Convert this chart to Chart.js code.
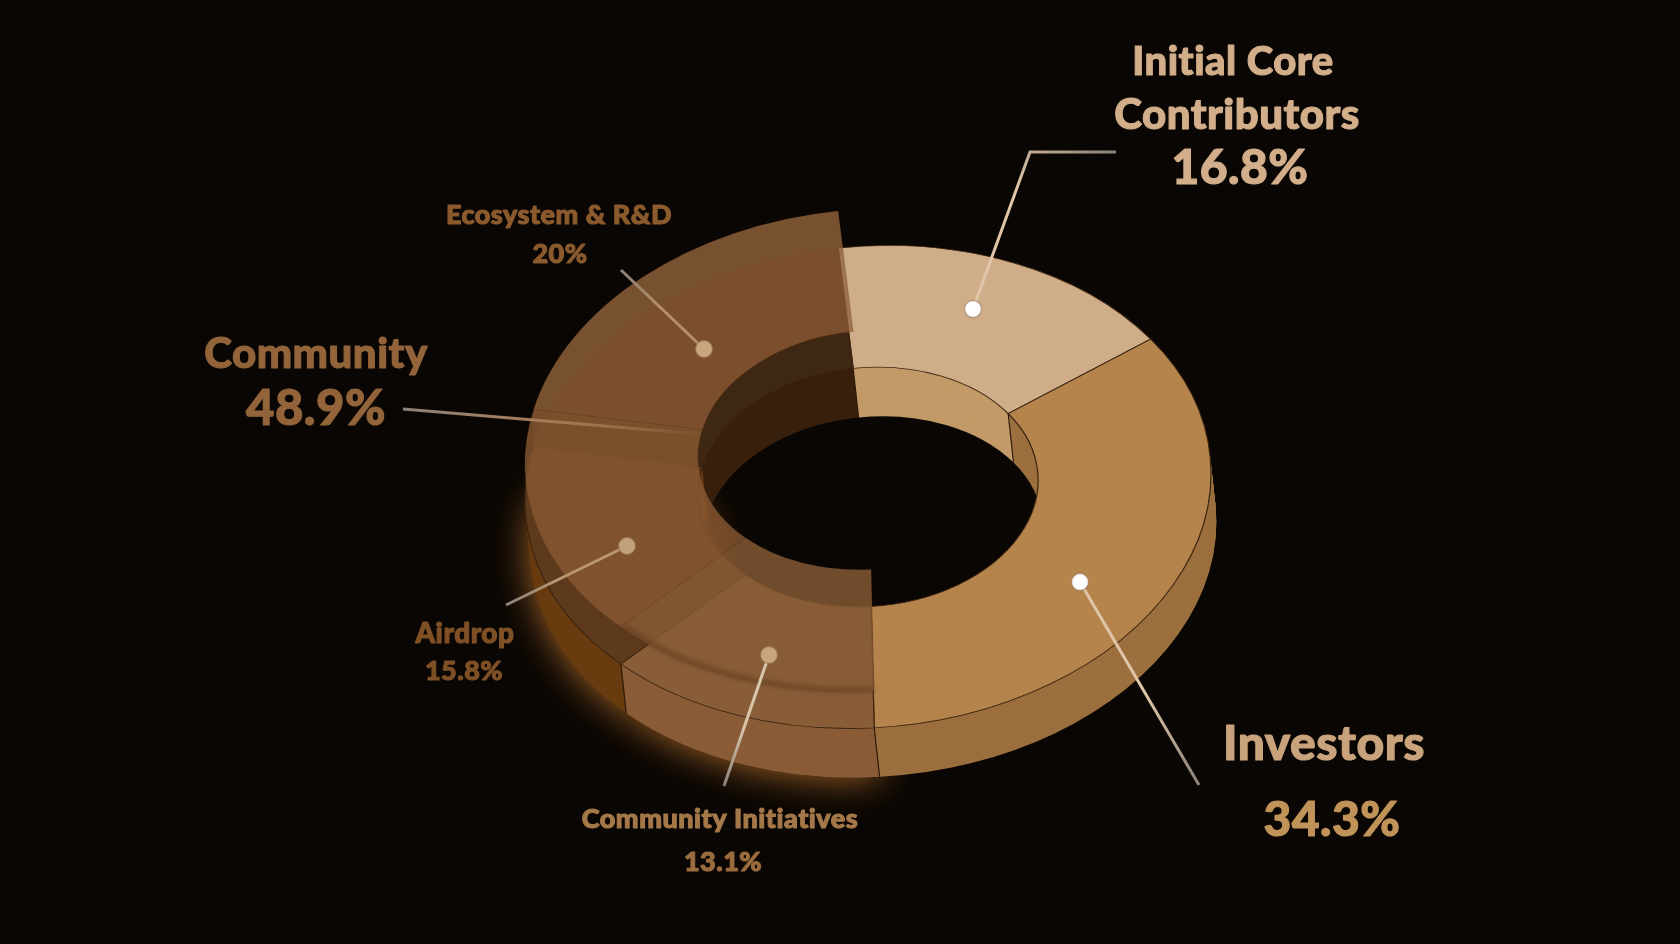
<!DOCTYPE html>
<html>
<head>
<meta charset="utf-8">
<style>
  html, body { margin: 0; background: #0a0603; }
  canvas { display: block; }
</style>
<script src="https://cdn.jsdelivr.net/npm/chart.js@4"></script>
</head>
<body>
<canvas id="chart" width="1680" height="944"></canvas>
<script>
const categories = ['Initial Core Contributors', 'Investors', 'Community Initiatives', 'Airdrop', 'Ecosystem & R&D'];
const shares = [16.8, 34.3, 13.1, 15.8, 20];
const faceColors = ['#cfad89', '#b5844c', '#8a5d39', '#5e3a1d', '#3f2813'];
const wallColors = ['#c29a68', '#9c6f3e', '#8a5c37', '#693c10', '#38200d'];
const liftColors = [null, null, 'rgba(136,92,54,.82)', 'rgba(136,88,50,.82)', 'rgba(142,97,60,.75)'];

// the ring is a plain doughnut, squashed and stacked by the plugin below
const cx = 868, cy = 487, squash = 0.703, tilt = -0.04;
const depth = 49, lift = 37, lean = 0.11;

function place(ctx, chart, dy) {
  const a = chart.chartArea;
  ctx.translate(cx + Math.max(dy, 0) * lean, cy + dy);
  ctx.transform(1, tilt, 0, 1, 0, 0);
  ctx.scale(1, squash);
  ctx.translate(-(a.left + a.right) / 2, -(a.top + a.bottom) / 2);
}

function paintArc(ctx, arc, fill, border, width) {
  const copy = Object.create(arc);
  copy.options = Object.assign({}, arc.options, {
    backgroundColor: fill,
    borderColor: border || fill,
    borderWidth: width || 0
  });
  copy.draw(ctx);
}

const ringPlugin = {
  id: 'ring',
  beforeDatasetDraw(chart, args) {
    const ctx = chart.ctx;
    const arcs = chart.getDatasetMeta(args.index).data;
    // glow under the front of the community slices
    ctx.save();
    ctx.shadowColor = 'rgba(200,125,50,.85)';
    ctx.shadowBlur = 38;
    place(ctx, chart, depth);
    paintArc(ctx, arcs[2], wallColors[2]);
    paintArc(ctx, arcs[3], wallColors[3]);
    ctx.restore();
    // side walls, back to front
    for (let dy = depth; dy >= -lift; dy--) {
      arcs.forEach((arc, i) => {
        if (dy < 0 && i !== 4) return;
        ctx.save();
        place(ctx, chart, dy);
        paintArc(ctx, arc, wallColors[i]);
        ctx.restore();
      });
    }
    // wall edges at slice boundaries
    ctx.strokeStyle = '#2e1a0a';
    ctx.lineWidth = 1.2;
    arcs.forEach((arc) => {
      const s = Math.sin(arc.startAngle), c = Math.cos(arc.startAngle);
      const r = s > 0 ? arc.outerRadius : arc.innerRadius;
      if (Math.abs(c) > 0.95) return;
      const x = cx + c * r, y = cy + s * r * squash + tilt * c * r;
      ctx.beginPath();
      ctx.moveTo(x, y);
      ctx.lineTo(x + depth * lean, y + depth);
      ctx.stroke();
    });
    ctx.save();
    place(ctx, chart, 0);
  },
  afterDatasetDraw(chart, args) {
    const ctx = chart.ctx;
    ctx.restore();
    const arcs = chart.getDatasetMeta(args.index).data;
    // warmer base where the floating ecosystem slice overlaps it
    const eco = arcs[4];
    ctx.save();
    place(ctx, chart, -lift);
    ctx.beginPath();
    ctx.arc(eco.x, eco.y, eco.outerRadius, eco.startAngle, eco.endAngle);
    ctx.arc(eco.x, eco.y, eco.innerRadius, eco.endAngle, eco.startAngle, true);
    ctx.closePath();
    ctx.setTransform(1, 0, 0, 1, 0, 0);
    ctx.clip();
    place(ctx, chart, 0);
    paintArc(ctx, eco, 'rgb(70,21,0)');
    ctx.restore();
    // community slices float above the ring as a see-through layer
    arcs.forEach((arc, i) => {
      if (!liftColors[i]) return;
      ctx.save();
      place(ctx, chart, -lift);
      paintArc(ctx, arc, liftColors[i], 'rgba(95,60,32,.22)', 1);
      ctx.restore();
    });
    // soft dark lip along the front edge of the floating layer
    const front = arcs[2];
    ctx.save();
    place(ctx, chart, -lift);
    ctx.filter = 'blur(2.5px)';
    ctx.strokeStyle = 'rgba(92,56,28,.6)';
    ctx.lineWidth = 7;
    ctx.beginPath();
    ctx.arc(front.x, front.y, front.outerRadius - 2, front.startAngle, front.endAngle);
    ctx.stroke();
    ctx.restore();
  },
  afterDraw(chart) {
    const ctx = chart.ctx;
    leaders.forEach((l) => {
      const n = l.pts.length;
      const [x0, y0] = l.pts[0], [x1, y1] = l.pts[n - 1];
      const g = ctx.createLinearGradient(x0, y0, x1, y1);
      g.addColorStop(0, '#8c8278');
      g.addColorStop(0.45, l.color);
      g.addColorStop(1, l.fade ? 'rgba(190,150,110,0)' : l.color);
      ctx.strokeStyle = g;
      ctx.lineWidth = 3;
      ctx.beginPath();
      l.pts.forEach(([x, y], i) => (i ? ctx.lineTo(x, y) : ctx.moveTo(x, y)));
      ctx.stroke();
      if (!l.dot) return;
      ctx.beginPath();
      ctx.arc(x1, y1, 8.5, 0, Math.PI * 2);
      ctx.fillStyle = l.dot;
      ctx.fill();
      ctx.strokeStyle = 'rgba(150,115,85,.55)';
      ctx.lineWidth = 1.5;
      ctx.stroke();
    });
    ctx.textAlign = 'center';
    ctx.textBaseline = 'middle';
    ctx.letterSpacing = '0.5px';
    ctx.lineJoin = 'round';
    ctx.lineWidth = 1.1;
    labelLines.forEach(([text, x, y, size, color]) => {
      ctx.font = '900 ' + size + 'px Lato';
      ctx.fillStyle = color;
      ctx.strokeStyle = color;
      ctx.fillText(text, x, y);
      ctx.strokeText(text, x, y);
    });
  }
};

const leaders = [
  { pts: [[1116, 152], [1030, 152], [973, 309]], color: '#e0c6a8', dot: '#ffffff' },
  { pts: [[1199, 785], [1080, 582]], color: '#e0c6a8', dot: '#ffffff' },
  { pts: [[621, 270], [704, 349]], color: '#b48f68', dot: '#c9a67c' },
  { pts: [[403, 409], [700, 434]], color: '#a57c58', fade: true },
  { pts: [[506, 605], [627, 546]], color: '#b9976f', dot: '#c2a27c' },
  { pts: [[724, 786], [769, 655]], color: '#d8c6ac', dot: '#c9a67c' }
];

const labelLines = [
  ['Initial Core', 1233, 62, 40, '#d2ae8a'],
  ['Contributors', 1237, 115, 42, '#d2ae8a'],
  ['16.8%', 1240, 169, 48, '#d2ae8a'],
  ['Investors', 1324, 745, 48, '#c9a37c'],
  ['34.3%', 1332, 821, 48, '#c09358'],
  ['Community', 316, 354, 42, '#93643a'],
  ['48.9%', 316, 409, 49, '#93643a'],
  ['Ecosystem & R&D', 559, 215, 27, '#8b5a2d'],
  ['20%', 560, 254, 27, '#8b5a2d'],
  ['Airdrop', 465, 634, 28, '#7f5025'],
  ['15.8%', 464, 671, 27, '#7f5025'],
  ['Community Initiatives', 720, 819, 27, '#a47849'],
  ['13.1%', 723, 862, 27, '#9a6c3e']
];

new Chart(document.getElementById('chart'), {
  type: 'doughnut',
  data: {
    labels: categories,
    datasets: [{
      data: shares,
      backgroundColor: faceColors,
      borderColor: '#3a2410',
      borderWidth: 1.2
    }]
  },
  options: {
    responsive: false,
    animation: false,
    rotation: -5,
    radius: 343,
    cutout: '49.6%',
    plugins: { legend: { display: false }, tooltip: { enabled: false } }
  },
  plugins: [ringPlugin]
});
</script>
</body>
</html>
